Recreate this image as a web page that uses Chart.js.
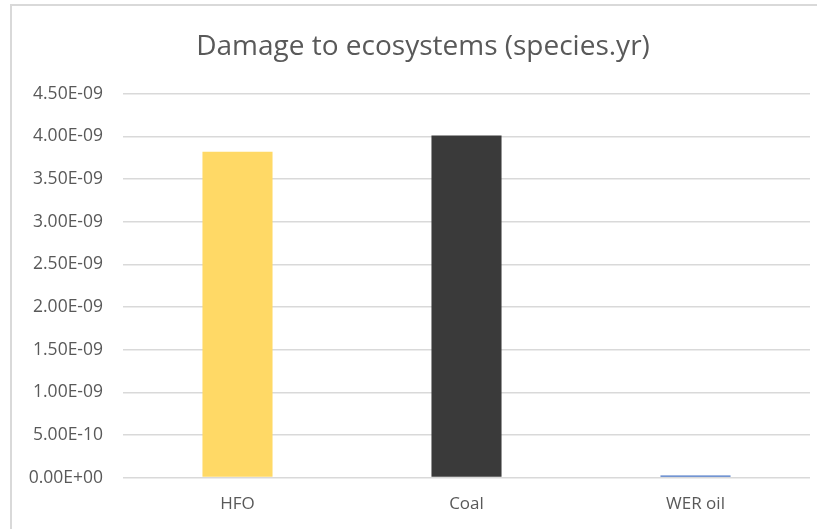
<!DOCTYPE html>
<html>
<head>
<meta charset="utf-8">
<script src="https://cdn.jsdelivr.net/npm/chart.js@4/dist/chart.umd.min.js"></script>
<style>
  html, body { margin: 0; padding: 0; background: #fff; overflow: hidden; }
  #frame {
    position: absolute; left: 10px; top: 4px;
    width: 820px; height: 540px;
    border-left: 2px solid #d9d9d9; border-top: 2px solid #d9d9d9;
  }
  #wrap { position: absolute; left: 12px; top: 6px; width: 822px; height: 523px; }
</style>
</head>
<body>
<div id="frame"></div>
<div id="wrap"><canvas id="damageChart"></canvas></div>
<script>
const categories = ['HFO', 'Coal', 'WER oil'];
const damageValues = [3.82e-9, 4.01e-9, 2.5e-11];
const barColors = ['#ffd966', '#3a3a3a', '#4472c4'];
const yMax = 4.5e-9;
const yStep = 5e-10;

function sciLabel(v) {
    const parts = Number(v).toExponential(2).split('e');
    const sign = parts[1][0];
    let exp = parts[1].slice(1);
    if (exp.length < 2) exp = '0' + exp;
    return parts[0] + 'E' + sign + exp;
}

document.addEventListener('DOMContentLoaded', function () {
    const ctx = document.getElementById('damageChart');
    new Chart(ctx.getContext('2d'), {
        type: 'bar',
        data: {
            labels: categories,
            datasets: [{
                label: 'Damage to ecosystems',
                data: damageValues,
                backgroundColor: barColors,
                borderWidth: 0,
                categoryPercentage: 1,
                barPercentage: 0.306
            }]
        },
        options: {
            responsive: true,
            maintainAspectRatio: false,
            animation: false,
            layout: { padding: { left: 0, right: 0, top: 0, bottom: 7 } },
            plugins: {
                legend: { display: false },
                tooltip: { enabled: false },
                title: {
                    display: true,
                    text: 'Damage to ecosystems (species.yr)',
                    color: '#595959',
                    font: { family: 'Open Sans', size: 28, weight: 'normal' },
                    padding: { top: 24, bottom: 30 }
                }
            },
            scales: {
                x: {
                    grid: { display: false },
                    border: { display: false },
                    ticks: {
                        color: '#595959',
                        font: { family: 'Open Sans', size: 17 },
                        padding: 8
                    }
                },
                y: {
                    min: 0,
                    max: yMax,
                    afterFit: scale => { scale.width = 111; },
                    grid: { color: '#d9d9d9', lineWidth: 1.5, drawTicks: false },
                    border: { display: false },
                    ticks: {
                        stepSize: yStep,
                        color: '#595959',
                        font: { family: 'Open Sans', size: 17.5 },
                        padding: 20,
                        callback: value => sciLabel(value)
                    }
                },
                // empty right-hand axis, only keeps space so the title sits where it does in the original
                yRight: {
                    position: 'right',
                    afterFit: scale => { scale.width = 24; },
                    grid: { display: false },
                    border: { display: false },
                    ticks: { display: false }
                }
            }
        }
    });
});
</script>
</body>
</html>
